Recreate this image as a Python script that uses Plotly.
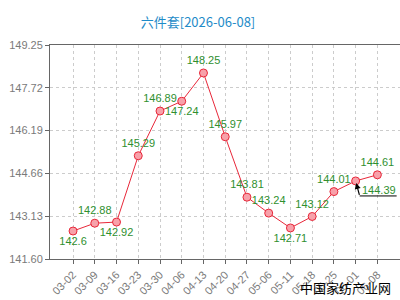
import plotly.graph_objects as go

dates = ["03-02", "03-09", "03-16", "03-23", "03-30", "04-06", "04-13", "04-20",
         "04-27", "05-06", "05-11", "05-18", "05-25", "06-01", "06-08"]
values = [142.6, 142.88, 142.92, 145.29, 146.89, 147.24, 148.25, 145.97,
          143.81, 143.24, 142.71, 143.12, 144.01, 144.39, 144.61]
y_ticks = [141.60, 143.13, 144.66, 146.19, 147.72, 149.25]
title_text = "六件套[2026-06-08]"
watermark = "中国家纺产业网"

# label placement per point (the 06-01 point carries an arrow callout instead)
label_pos = ["bottom center", "top center", "bottom center", "top center", "top center",
             "bottom center", "top center", "top center", "top center", "top center",
             "bottom center", "top center", "top center", "top center", "top center"]
callout_idx = 13
texts = [("" if i == callout_idx else str(v)) for i, v in enumerate(values)]

label_font = dict(family="Arial, Liberation Sans, sans-serif", size=11, color="#2f8f2f")
tick_font = dict(family="Arial, Liberation Sans, sans-serif", size=11, color="#7a7a7a")

fig = go.Figure()
fig.add_trace(go.Scatter(
    x=dates, y=values, mode="lines+markers+text",
    text=texts, textposition=label_pos, textfont=label_font,
    line=dict(color="#e8283a", width=1),
    marker=dict(symbol="circle", size=8, color="#f7a1aa",
                line=dict(color="#e8283a", width=1)),
    cliponaxis=False, hoverinfo="skip", showlegend=False,
))

# arrow callout for 06-01
fig.add_annotation(x=dates[callout_idx], y=values[callout_idx], xref="x", yref="y",
                   text=" ", font=dict(size=1), borderpad=0,
                   showarrow=True, ax=4, ay=15, arrowhead=2, arrowsize=1,
                   arrowwidth=1.2, arrowcolor="black", standoff=2)
fig.add_annotation(x=dates[callout_idx], y=values[callout_idx], xref="x", yref="y",
                   text=str(values[callout_idx]), showarrow=False, xshift=23, yshift=-9,
                   font=label_font)
fig.add_shape(type="line", xref="x", yref="y",
              xsizemode="pixel", ysizemode="pixel",
              xanchor=callout_idx, yanchor=values[callout_idx],
              x0=4, x1=41, y0=-15, y1=-15,
              line=dict(color="black", width=1))

fig.add_annotation(text=watermark, xref="paper", yref="paper", x=0.844, y=-0.134,
                   xanchor="center", yanchor="middle", showarrow=False,
                   font=dict(family="Noto Sans CJK SC", size=13, color="black"))

fig.update_layout(
    width=400, height=300,
    margin=dict(l=50, r=0, t=45, b=41),
    paper_bgcolor="white", plot_bgcolor="white",
    title=dict(text=title_text, xref="container", yref="container", x=0.495, y=0.925,
               xanchor="center", yanchor="middle",
               font=dict(family="Noto Sans CJK SC", size=13, color="#1e8bc8")),
    xaxis=dict(type="category", range=[-1.06, 15.04], tickangle=-45,
               showgrid=True, gridcolor="#cccccc", griddash="dot", gridwidth=1,
               showline=True, linecolor="#666666", linewidth=1, mirror=True,
               ticks="outside", ticklen=4, tickcolor="#666666",
               tickfont=tick_font, zeroline=False, fixedrange=True),
    yaxis=dict(range=[141.60, 149.25], tickvals=y_ticks, tickformat=".2f",
               showgrid=True, gridcolor="#cccccc", griddash="dot", gridwidth=1,
               showline=True, linecolor="#666666", linewidth=1,
               ticks="outside", ticklen=4, tickcolor="#666666",
               tickfont=tick_font, zeroline=False, fixedrange=True),
)

fig.write_html("out.html")
